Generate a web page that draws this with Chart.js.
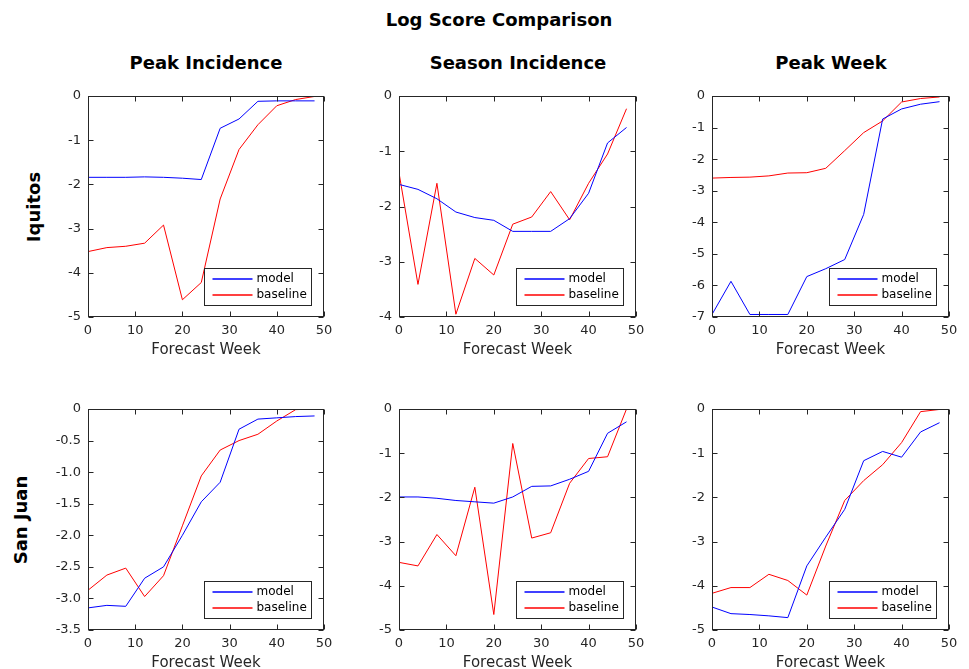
<!DOCTYPE html>
<html><head><meta charset="utf-8">
<script src="https://cdn.jsdelivr.net/npm/chart.js@4.4.0/dist/chart.umd.min.js"></script>
<style>
body{margin:0;background:#fff;width:969px;height:669px;overflow:hidden;position:relative;font-family:"DejaVu Sans",sans-serif;}
.t{position:absolute;font-weight:bold;font-size:18px;color:#000;white-space:nowrap;transform:translate(-50%,-50%);}
.rl{position:absolute;font-weight:bold;font-size:18px;color:#000;white-space:nowrap;transform:translate(-50%,-50%) rotate(-90deg);}
canvas{position:absolute;}
</style></head><body>
<div class="t" style="left:499px;top:19px">Log Score Comparison</div>
<div class="t" style="left:206px;top:62px">Peak Incidence</div>
<div class="t" style="left:518px;top:62px">Season Incidence</div>
<div class="t" style="left:831px;top:62px">Peak Week</div>
<div class="rl" style="left:33px;top:207px">Iquitos</div>
<div class="rl" style="left:20px;top:520px">San Juan</div>
<canvas id="c0"></canvas><canvas id="c1"></canvas><canvas id="c2"></canvas>
<canvas id="c3"></canvas><canvas id="c4"></canvas><canvas id="c5"></canvas>
<script>
const weeks = [0,4,8,12,16,20,24,28,32,36,40,44,48];
const xTicks = [0,10,20,30,40,50];
const seriesNames = ["model","baseline"];
const seriesColors = ["#0000ff","#ff0000"];

const iquitosPeakIncModel    = [-1.84,-1.84,-1.84,-1.83,-1.84,-1.86,-1.89,-0.73,-0.52,-0.12,-0.11,-0.11,-0.11];
const iquitosPeakIncBaseline = [-3.52,-3.43,-3.40,-3.33,-2.92,-4.61,-4.22,-2.33,-1.21,-0.65,-0.22,-0.08,-0.01];
const iquitosSeasonIncModel    = [-1.60,-1.69,-1.86,-2.10,-2.20,-2.25,-2.45,-2.45,-2.45,-2.22,-1.76,-0.85,-0.57];
const iquitosSeasonIncBaseline = [-1.39,-3.41,-1.58,-3.95,-2.94,-3.24,-2.32,-2.19,-1.73,-2.24,-1.58,-1.05,-0.23];
const iquitosPeakWeekModel    = [-6.92,-5.87,-6.92,-6.92,-6.92,-5.72,-5.47,-5.18,-3.75,-0.73,-0.41,-0.26,-0.18];
const iquitosPeakWeekBaseline = [-2.60,-2.58,-2.57,-2.53,-2.44,-2.43,-2.29,-1.73,-1.16,-0.79,-0.19,-0.08,-0.03];
const sanJuanPeakIncModel    = [-3.15,-3.11,-3.125,-2.68,-2.50,-2.00,-1.47,-1.16,-0.32,-0.16,-0.14,-0.12,-0.11];
const sanJuanPeakIncBaseline = [-2.87,-2.63,-2.52,-2.97,-2.64,-1.85,-1.06,-0.65,-0.50,-0.40,-0.19,-0.01,0];
const sanJuanSeasonIncModel    = [-1.99,-1.99,-2.02,-2.07,-2.10,-2.13,-1.99,-1.75,-1.74,-1.59,-1.41,-0.55,-0.29];
const sanJuanSeasonIncBaseline = [-3.47,-3.55,-2.84,-3.32,-1.77,-4.65,-0.78,-2.92,-2.80,-1.68,-1.12,-1.08,0];
const sanJuanPeakWeekModel    = [-4.48,-4.63,-4.65,-4.68,-4.72,-3.55,-2.90,-2.27,-1.17,-0.96,-1.09,-0.52,-0.31];
const sanJuanPeakWeekBaseline = [-4.17,-4.04,-4.04,-3.74,-3.88,-4.21,-3.10,-2.07,-1.62,-1.26,-0.76,-0.06,-0.01];

const yRanges = [[-5,0,1],[-4,0,1],[-7,0,1],[-3.5,0,0.5],[-5,0,1],[-5,0,1]];

const panels = [
  [iquitosPeakIncModel, iquitosPeakIncBaseline],
  [iquitosSeasonIncModel, iquitosSeasonIncBaseline],
  [iquitosPeakWeekModel, iquitosPeakWeekBaseline],
  [sanJuanPeakIncModel, sanJuanPeakIncBaseline],
  [sanJuanSeasonIncModel, sanJuanSeasonIncBaseline],
  [sanJuanPeakWeekModel, sanJuanPeakWeekBaseline]
];

const AX = '#262626';
const colLeft = [88, 399, 712], colRight = [324, 636, 949];
const rowTop = [96, 409], rowBottom = [317, 630];
const PADL = 62, PADT = 12, PADR = 24, PADB = 48;

const boxPlugin = {
  id: 'boxTicks',
  afterDraw(chart) {
    const ctx = chart.ctx, a = chart.chartArea;
    const xs = chart.scales.x, ys = chart.scales.y;
    const L = Math.round(a.left) + 0.5, R = Math.round(a.right) - 0.5;
    const T = Math.round(a.top) + 0.5, B = Math.round(a.bottom) - 0.5;
    ctx.save();
    ctx.lineWidth = 1;
    ctx.strokeStyle = AX;
    ctx.beginPath();
    xs.ticks.forEach(t => {
      const p = Math.round(xs.getPixelForValue(t.value)) + 0.5;
      ctx.moveTo(p, B); ctx.lineTo(p, B - 5);
      ctx.moveTo(p, T); ctx.lineTo(p, T + 5);
    });
    ys.ticks.forEach(t => {
      const p = Math.round(ys.getPixelForValue(t.value)) + 0.5;
      ctx.moveTo(L, p); ctx.lineTo(L + 5, p);
      ctx.moveTo(R, p); ctx.lineTo(R - 5, p);
    });
    ctx.stroke();
    ctx.strokeRect(L, T, R - L, B - T);
    // legend
    const w = 107, h = 37;
    const lx = Math.round(a.right) - 13 - w + 0.5, ly = Math.round(a.bottom) - 12 - h + 0.5;
    ctx.fillStyle = '#ffffff';
    ctx.fillRect(lx, ly, w, h);
    ctx.strokeStyle = AX;
    ctx.strokeRect(lx, ly, w, h);
    ctx.font = '12px "DejaVu Sans"';
    ctx.textBaseline = 'middle';
    ctx.textAlign = 'left';
    chart.data.datasets.forEach((ds, i) => {
      const yy = Math.round(ly + 10 + i * 16.5);
      ctx.beginPath();
      ctx.strokeStyle = seriesColors[i];
      ctx.lineWidth = 1.3;
      ctx.moveTo(lx + 8, yy); ctx.lineTo(lx + 48, yy);
      ctx.stroke();
      ctx.fillStyle = '#000000';
      ctx.fillText(ds.label, lx + 52, yy);
    });
    ctx.restore();
  }
};

panels.forEach((pd, i) => {
  const col = i % 3, row = Math.floor(i / 3);
  const cv = document.getElementById('c' + i);
  const left = colLeft[col] - PADL, top = rowTop[row] - PADT;
  const W = PADL + (colRight[col] - colLeft[col]) + PADR;
  const H = PADT + (rowBottom[row] - rowTop[row]) + PADB;
  cv.style.left = left + 'px'; cv.style.top = top + 'px';
  cv.width = W; cv.height = H; cv.style.width = W + 'px'; cv.style.height = H + 'px';
  const [ymin, ymax, ystep] = yRanges[i];
  new Chart(cv, {
    type: 'line',
    data: {
      datasets: seriesNames.map((name, s) => ({
        label: name,
        data: weeks.map((w, k) => ({x: w, y: pd[s][k]})),
        borderColor: seriesColors[s], borderWidth: 1, pointRadius: 0, fill: false, tension: 0
      }))
    },
    options: {
      responsive: false, animation: false, devicePixelRatio: 1,
      layout: { padding: { left: 0, top: PADT, right: PADR, bottom: 0 } },
      plugins: { legend: { display: false }, tooltip: { enabled: false }, title: { display: false } },
      scales: {
        x: {
          type: 'linear', min: 0, max: 50,
          afterBuildTicks: s => { s.ticks = xTicks.map(v => ({value: v})); },
          grid: { display: false, drawTicks: false }, border: { display: false },
          ticks: { color: AX, font: { family: 'DejaVu Sans', size: 13 }, padding: 6, maxRotation: 0 },
          title: { display: true, text: 'Forecast Week', color: AX, font: { family: 'DejaVu Sans', size: 15 }, padding: { top: 0, bottom: 6 } },
          afterFit: s => { s.height = PADB; s.paddingLeft = 0; s.paddingRight = 0; }
        },
        y: {
          type: 'linear', min: ymin, max: ymax,
          ticks: { stepSize: ystep, color: AX, font: { family: 'DejaVu Sans', size: 13 }, padding: 7 },
          grid: { display: false, drawTicks: false }, border: { display: false },
          afterFit: s => { s.width = PADL; s.paddingTop = 0; s.paddingBottom = 0; }
        }
      }
    },
    plugins: [boxPlugin]
  });
});
</script>
</body></html>
